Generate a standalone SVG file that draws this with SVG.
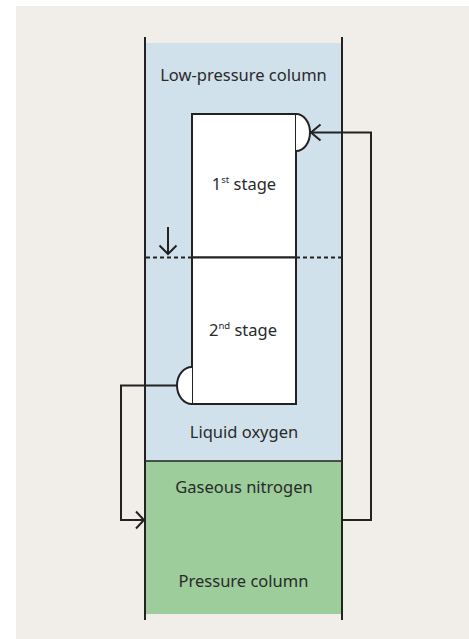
<svg xmlns="http://www.w3.org/2000/svg" width="469" height="639" viewBox="0 0 469 639">
<style>
.ln{fill:none;stroke:#222;stroke-width:2}
.lbl{font-family:"Noto Sans","Liberation Sans",sans-serif;font-size:16.5px;fill:#2a2a2a;text-anchor:middle}
.sup{font-size:9.5px}
</style>
<rect x="16" y="6" width="453" height="633" fill="#f1eeea"/>
<g id="low-pressure-column">
<rect x="145" y="43" width="197" height="418" fill="#d1e1eb"/>
<text class="lbl" x="243.5" y="81">Low-pressure column</text>
<text class="lbl" x="244" y="438">Liquid oxygen</text>
</g>
<g id="pressure-column">
<rect x="145" y="461" width="197" height="153" fill="#9ccd9a"/>
<line x1="145" y1="461" x2="342" y2="461" stroke="#222" stroke-width="1.5"/>
<text class="lbl" x="244" y="493">Gaseous nitrogen</text>
<text class="lbl" x="243.5" y="587">Pressure column</text>
</g>
<g id="column-walls">
<line class="ln" x1="145" y1="37" x2="145" y2="620"/>
<line class="ln" x1="342" y1="37" x2="342" y2="620"/>
</g>
<g id="liquid-level">
<line x1="146" y1="257.5" x2="192" y2="257.5" stroke="#222" stroke-width="2" stroke-dasharray="4 3" />
<line x1="296" y1="257.5" x2="341" y2="257.5" stroke="#222" stroke-width="2" stroke-dasharray="4 3"/>
</g>
<g id="stage-1">
<rect x="192" y="114" width="104" height="143.5" fill="#fff" stroke="#222" stroke-width="2"/>
<path d="M296,114 A14,18.5 0 0 1 296,151" fill="#fff" stroke="#222" stroke-width="2"/>
<text class="lbl" x="244" y="190">1<tspan class="sup" dy="-7">st</tspan><tspan dy="7"> stage</tspan></text>
</g>
<g id="stage-2">
<rect x="192" y="257.5" width="104" height="146.5" fill="#fff" stroke="#222" stroke-width="2"/>
<path d="M192,367 A15,18.5 0 0 0 192,404" fill="#fff" stroke="#222" stroke-width="2"/>
<text class="lbl" x="243" y="336">2<tspan class="sup" dy="-7">nd</tspan><tspan dy="7"> stage</tspan></text>
</g>
<g id="connectors">
<path class="ln" d="M311,132.5 H371 V520 H342"/>
<polyline class="ln" points="320.5,124.5 311,132.5 320.5,140.5"/>
<path class="ln" d="M177,385.5 H121 V520 H144"/>
<polyline class="ln" points="136,511.5 144,520 136,528.5"/>
<line class="ln" x1="168" y1="227" x2="168" y2="254"/>
<polyline class="ln" points="159.5,245.5 168,254 176.5,245.5"/>
</g>
</svg>
